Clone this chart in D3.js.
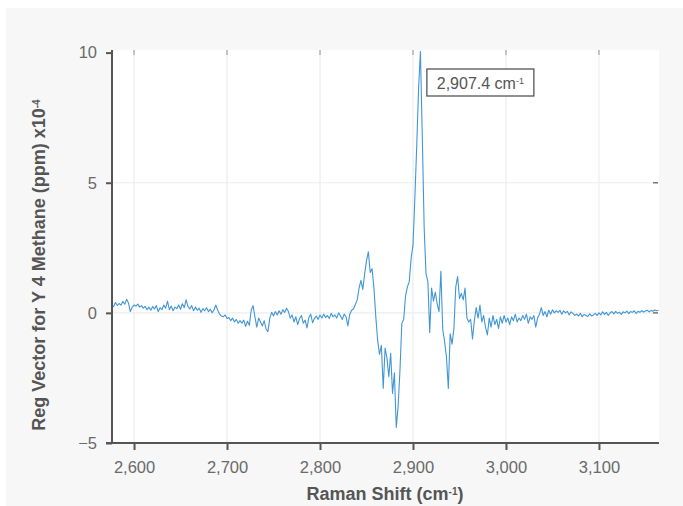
<!DOCTYPE html>
<html>
<head>
<meta charset="utf-8">
<script src="https://cdn.jsdelivr.net/npm/d3@7"></script>
<style>
    body { margin: 0; background: #fff; }
    text { font-family: "Liberation Sans", Arial, sans-serif; }
</style>
</head>
<body>
<div id="chart"></div>
<script>
// Raman shift (cm-1) of each sample point
const ramanShift = [
    2576, 2578, 2580, 2582, 2584, 2586, 2588, 2590, 2592, 2594,
    2596, 2598, 2600, 2602, 2604, 2606, 2608, 2610, 2612, 2614,
    2616, 2618, 2620, 2622, 2624, 2626, 2628, 2630, 2632, 2634,
    2636, 2638, 2640, 2642, 2644, 2646, 2648, 2650, 2652, 2654,
    2656, 2658, 2660, 2662, 2664, 2666, 2668, 2670, 2672, 2674,
    2676, 2678, 2680, 2682, 2684, 2686, 2688, 2690, 2692, 2694,
    2696, 2698, 2700, 2702, 2704, 2706, 2708, 2710, 2712, 2714,
    2716, 2718, 2720, 2722, 2724, 2726, 2728, 2730, 2732, 2734,
    2736, 2738, 2740, 2742, 2744, 2746, 2748, 2750, 2752, 2754,
    2756, 2758, 2760, 2762, 2764, 2766, 2768, 2770, 2772, 2774,
    2776, 2778, 2780, 2782, 2784, 2786, 2788, 2790, 2792, 2794,
    2796, 2798, 2800, 2802, 2804, 2806, 2808, 2810, 2812, 2814,
    2816, 2818, 2820, 2822, 2824, 2826, 2828, 2830, 2832, 2834,
    2836, 2838, 2840, 2842, 2844, 2846, 2848, 2850, 2852, 2854,
    2856, 2858, 2860, 2862, 2864, 2866, 2868, 2870, 2872, 2874,
    2876, 2878, 2880, 2882, 2884, 2886, 2888, 2890, 2892, 2894,
    2896, 2898, 2900, 2902, 2904, 2906, 2908, 2910, 2912, 2914,
    2916, 2918, 2920, 2922, 2924, 2926, 2928, 2930, 2932, 2934,
    2936, 2938, 2940, 2942, 2944, 2946, 2948, 2950, 2952, 2954,
    2956, 2958, 2960, 2962, 2964, 2966, 2968, 2970, 2972, 2974,
    2976, 2978, 2980, 2982, 2984, 2986, 2988, 2990, 2992, 2994,
    2996, 2998, 3000, 3002, 3004, 3006, 3008, 3010, 3012, 3014,
    3016, 3018, 3020, 3022, 3024, 3026, 3028, 3030, 3032, 3034,
    3036, 3038, 3040, 3042, 3044, 3046, 3048, 3050, 3052, 3054,
    3056, 3058, 3060, 3062, 3064, 3066, 3068, 3070, 3072, 3074,
    3076, 3078, 3080, 3082, 3084, 3086, 3088, 3090, 3092, 3094,
    3096, 3098, 3100, 3102, 3104, 3106, 3108, 3110, 3112, 3114,
    3116, 3118, 3120, 3122, 3124, 3126, 3128, 3130, 3132, 3134,
    3136, 3138, 3140, 3142, 3144, 3146, 3148, 3150, 3152, 3154,
    3156, 3158, 3160, 3162, 3164
];

// Regression vector value (x10^-4)
const regVector = [
    0.32, 0.24, 0.40, 0.28, 0.36, 0.30, 0.44, 0.33, 0.52, 0.38,
    0.05, 0.22, 0.30, 0.26, 0.34, 0.22, 0.28, 0.18, 0.25, 0.12,
    0.22, 0.10, 0.24, 0.15, 0.28, 0.05, 0.20, 0.12, 0.30, 0.18,
    0.45, 0.12, 0.26, 0.08, 0.22, 0.16, 0.30, 0.14, 0.35, 0.20,
    0.50, 0.25, 0.15, 0.28, 0.08, 0.22, 0.10, 0.18, 0.02, 0.16,
    0.08, 0.20, 0.05, 0.14, 0.00, 0.12, 0.30, 0.10, -0.05, -0.12,
    -0.15, -0.08, -0.22, -0.18, -0.30, -0.20, -0.35, -0.25, -0.40, -0.30,
    -0.40, -0.28, -0.52, -0.32, -0.48, 0.10, 0.28, -0.15, -0.55, -0.20,
    -0.35, -0.50, -0.30, -0.62, -0.72, -0.20, 0.02, -0.12, 0.05, -0.08,
    0.08, -0.05, 0.12, 0.02, 0.18, 0.05, -0.20, -0.08, -0.35, -0.15,
    -0.45, -0.22, -0.10, -0.40, -0.28, -0.58, -0.18, -0.05, -0.38, -0.22,
    -0.12, -0.25, -0.08, -0.20, -0.05, -0.18, -0.10, -0.22, -0.02, -0.15,
    -0.08, -0.20, 0.00, -0.12, -0.25, -0.05, -0.15, -0.50, -0.05, 0.10,
    0.15, 0.32, 0.50, 0.95, 1.25, 0.90, 1.50, 2.00, 2.35, 1.55,
    1.70, 0.95, -0.15, -1.05, -1.60, -1.25, -2.90, -1.35, -1.75, -2.45,
    -1.55, -3.10, -2.30, -4.40, -3.60, -2.20, -0.40, -0.25, 0.65, 1.00,
    1.20, 2.10, 2.60, 4.40, 6.40, 8.60, 10.05, 6.80, 3.30, 1.50,
    1.20, -0.75, 0.95, 0.45, 0.80, 0.35, 0.05, 1.60, -0.65, -1.10,
    -1.70, -2.90, -0.80, -1.20, -0.60, 1.00, 1.40, 0.55, 0.75, 0.50,
    0.95, -0.20, -0.35, -0.25, -1.00, -0.30, 0.20, -0.20, 0.30, -0.35,
    -0.10, -0.55, -0.85, -0.20, -0.55, -0.10, -0.45, -0.25, -0.60, -0.15,
    -0.40, -0.10, -0.35, -0.20, -0.45, -0.15, -0.30, -0.05, -0.35, -0.20,
    -0.30, -0.10, -0.25, -0.05, -0.40, -0.15, -0.25, -0.10, -0.55, -0.20,
    -0.05, 0.20, -0.10, 0.05, -0.15, 0.10, -0.05, 0.12, 0.00, 0.08,
    0.02, 0.10, -0.05, 0.08, 0.00, 0.06, -0.08, 0.04, -0.02, -0.10,
    -0.05, -0.12, -0.02, -0.15, -0.06, -0.10, -0.14, -0.04, -0.12, -0.08,
    -0.02, -0.10, 0.00, -0.08, 0.04, -0.06, 0.02, -0.10, 0.00, 0.05,
    -0.04, 0.06, -0.02, 0.03, -0.06, 0.04, 0.00, 0.07, -0.03, 0.05,
    0.02, 0.08, -0.02, 0.06, 0.02, 0.09, 0.03, 0.07, 0.10, 0.04,
    0.09, 0.06, 0.11, 0.08, 0.10
];

const xTicks = [2600, 2700, 2800, 2900, 3000, 3100];
const yTicks = [-5, 0, 5, 10];
const xDomain = [2576.3, 3163.5];
const yDomain = [-5, 10.1];
const peakLabel = "2,907.4 cm";

let margin = { top: 50, right: 25, bottom: 63, left: 112 };
let width = 683 - margin.left - margin.right,
    height = 506 - margin.top - margin.bottom;

const root = d3.select("#chart")
    .append("svg")
    .attr("width", 683)
    .attr("height", 506);

// Grey panel behind the chart
root.append("rect")
    .attr("x", 6).attr("y", 8)
    .attr("width", 677).attr("height", 498)
    .attr("fill", "#f7f7f7");

let svg = root.append("g")
    .attr("transform", "translate(" + margin.left + "," + margin.top + ")");

// White plot area
svg.append("rect")
    .attr("width", width + 1)
    .attr("height", height)
    .attr("fill", "#fff");

// Define x and y scales
let x = d3.scaleLinear().domain(xDomain).range([0, width]);
let y = d3.scaleLinear().domain(yDomain).range([height, 0]);

// Gridlines
svg.append("g").selectAll("line")
    .data(xTicks)
    .enter().append("line")
    .attr("x1", (d) => x(d)).attr("x2", (d) => x(d))
    .attr("y1", 0).attr("y2", height)
    .attr("stroke", "#ececec").attr("stroke-width", 1.2);

svg.append("g").selectAll("line")
    .data(yTicks.filter((d) => d > -5 && d < 10))
    .enter().append("line")
    .attr("x1", 0).attr("x2", width)
    .attr("y1", (d) => y(d)).attr("y2", (d) => y(d))
    .attr("stroke", "#ececec").attr("stroke-width", 1.2);

// Mirror ticks on top and right
svg.append("g").selectAll("line")
    .data(xTicks)
    .enter().append("line")
    .attr("x1", (d) => x(d)).attr("x2", (d) => x(d))
    .attr("y1", 0).attr("y2", 5)
    .attr("stroke", "#b5b5b5").attr("stroke-width", 1.5);

svg.append("g").selectAll("line")
    .data(yTicks.filter((d) => d > -5 && d < 10))
    .enter().append("line")
    .attr("x1", width - 5).attr("x2", width)
    .attr("y1", (d) => y(d)).attr("y2", (d) => y(d))
    .attr("stroke", "#777").attr("stroke-width", 1.5);

// Spectrum line
const line = d3.line()
    .x((d) => x(d[0]))
    .y((d) => y(d[1]));

svg.append("path")
    .datum(d3.zip(ramanShift, regVector))
    .attr("fill", "none")
    .attr("stroke", "#4196d6")
    .attr("stroke-width", 1.1)
    .attr("stroke-linejoin", "round")
    .attr("d", line);

// Axes
let xAxis = svg.append("g")
    .attr("transform", "translate(0," + height + ")")
    .call(d3.axisBottom(x).tickValues(xTicks).tickFormat(d3.format(",")).tickSize(7).tickSizeOuter(0).tickPadding(11));

let yAxis = svg.append("g")
    .call(d3.axisLeft(y).tickValues(yTicks).tickSize(6).tickSizeOuter(0).tickPadding(9));

[xAxis, yAxis].forEach((a) => {
    a.select(".domain").remove();
    a.selectAll(".tick line").attr("stroke", "#555").attr("stroke-width", 2);
    a.selectAll(".tick text")
        .attr("fill", "#6a6a6a")
        .style("font-size", "16.5px")
        .style("font-family", "'Liberation Sans', Arial, sans-serif");
});

svg.append("line")
    .attr("x1", -6).attr("x2", width + 1)
    .attr("y1", height).attr("y2", height)
    .attr("stroke", "#555").attr("stroke-width", 2);

svg.append("line")
    .attr("x1", 0).attr("x2", 0)
    .attr("y1", 0).attr("y2", height)
    .attr("stroke", "#555").attr("stroke-width", 2);

// Axis titles
const xTitle = root.append("text")
    .attr("x", 385).attr("y", 500)
    .attr("text-anchor", "middle")
    .attr("fill", "#555")
    .style("font-size", "18px")
    .style("font-weight", "bold")
    .text("Raman Shift (cm");
xTitle.append("tspan").attr("baseline-shift", "super").style("font-size", "10px").text("-1");
xTitle.append("tspan").text(")");

const yTitle = root.append("text")
    .attr("transform", "translate(45,265) rotate(-90)")
    .attr("text-anchor", "middle")
    .attr("fill", "#555")
    .style("font-size", "18px")
    .style("font-weight", "bold")
    .text("Reg Vector for Y 4 Methane (ppm) x10");
yTitle.append("tspan").attr("baseline-shift", "super").style("font-size", "10px").text("-4");

// Peak annotation
const note = svg.append("g")
    .attr("transform", "translate(" + (x(2907.4) + 7) + "," + (y(10.1) + 19) + ")");

note.append("rect")
    .attr("width", 107).attr("height", 27)
    .attr("fill", "#fff")
    .attr("stroke", "#555").attr("stroke-width", 1.3);

const noteText = note.append("text")
    .attr("x", 53.5).attr("y", 19.5)
    .attr("text-anchor", "middle")
    .attr("fill", "#555")
    .style("font-size", "16px")
    .text(peakLabel);
noteText.append("tspan").attr("baseline-shift", "super").style("font-size", "9px").text("-1");
</script>
</body>
</html>
